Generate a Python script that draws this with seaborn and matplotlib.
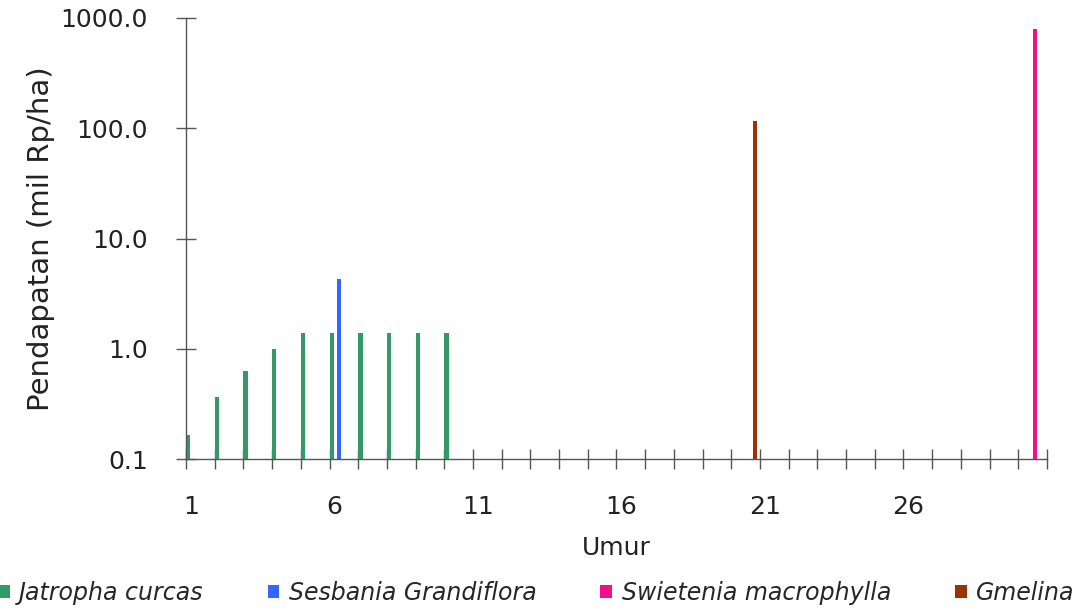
import matplotlib
matplotlib.use('Agg')
import matplotlib.pyplot as plt
from matplotlib.ticker import NullLocator
import pandas as pd
import seaborn as sns

# data
umur = list(range(1, 31))
jatropha_umur = [1, 2, 3, 4, 5, 6, 7, 8, 9, 10]
jatropha_nilai = [0.165, 0.365, 0.63, 1.0, 1.39, 1.39, 1.39, 1.39, 1.39, 1.39]
sesbania_umur = [6]
sesbania_nilai = [4.3]
swietenia_umur = [30]
swietenia_nilai = [795]
gmelina_umur = [20]
gmelina_nilai = [116]

spesies = ['Jatropha curcas', 'Sesbania Grandiflora', 'Swietenia macrophylla', 'Gmelina']
warna = ['#339966', '#3366FF', '#F0108C', '#993300']

y_ticks = [0.1, 1, 10, 100, 1000]
x_labels = ['1', '6', '11', '16', '21', '26']

rows = []
for nama, xs, ys in zip(spesies,
                        [jatropha_umur, sesbania_umur, swietenia_umur, gmelina_umur],
                        [jatropha_nilai, sesbania_nilai, swietenia_nilai, gmelina_nilai]):
    for x, y in zip(xs, ys):
        rows.append({'Umur': x, 'Pendapatan': y, 'Spesies': nama})
df = pd.DataFrame(rows)

sns.set_style('white')
plt.rcParams['font.family'] = ['DejaVu Sans']

fig = plt.figure(figsize=(10.79, 6.10), dpi=100)
ax = fig.add_axes([0.1724, 0.2475, 0.7979, 0.723])

sns.barplot(data=df, x='Umur', y='Pendapatan', hue='Spesies', order=umur,
            hue_order=spesies, palette=warna, width=1.0, gap=0.4, dodge=True,
            errorbar=None, saturation=1, linewidth=0, ax=ax)

ax.set_yscale('log')
ax.set_ylim(0.1, 1000)
ax.set_xlim(-0.45, 29.55)

# y axis
ax.set_yticks(y_ticks)
ax.set_yticklabels(['%.1f' % v for v in y_ticks])
ax.yaxis.set_minor_locator(NullLocator())
ax.tick_params(axis='y', left=True, length=15, width=1, direction='inout',
               color='#555555', pad=20, labelsize=18, labelcolor='#222222')

# x axis: marks on category boundaries, labels every 5 years
ax.set_xticks([k - 0.45 for k in range(31)], minor=True)
ax.set_xticks([i - 0.28 for i in range(0, 30, 5)])
ax.set_xticklabels(x_labels)
ax.tick_params(axis='x', which='major', bottom=True, length=0, pad=26,
               labelsize=18, labelcolor='#222222')
ax.tick_params(axis='x', which='minor', bottom=True, length=15, width=1,
               direction='inout', color='#555555')

ax.set_xlabel('Umur', fontsize=18, labelpad=12, color='#222222')
ax.set_ylabel('Pendapatan (mil Rp/ha)', fontsize=21, labelpad=4, color='#222222')

sns.despine(ax=ax)
for s in ['left', 'bottom']:
    ax.spines[s].set_color('#555555')
    ax.spines[s].set_linewidth(1)

handles, labels = ax.get_legend_handles_labels()
ax.get_legend().remove()
fig.legend(handles, labels, loc='center', bbox_to_anchor=(0.497, 0.028), ncol=4,
           frameon=False, prop={'style': 'italic', 'size': 17, 'family': 'DejaVu Sans'},
           handlelength=0.5, handleheight=0.5, handletextpad=0.4, columnspacing=2.7)

fig.savefig('out.png', dpi=100)
